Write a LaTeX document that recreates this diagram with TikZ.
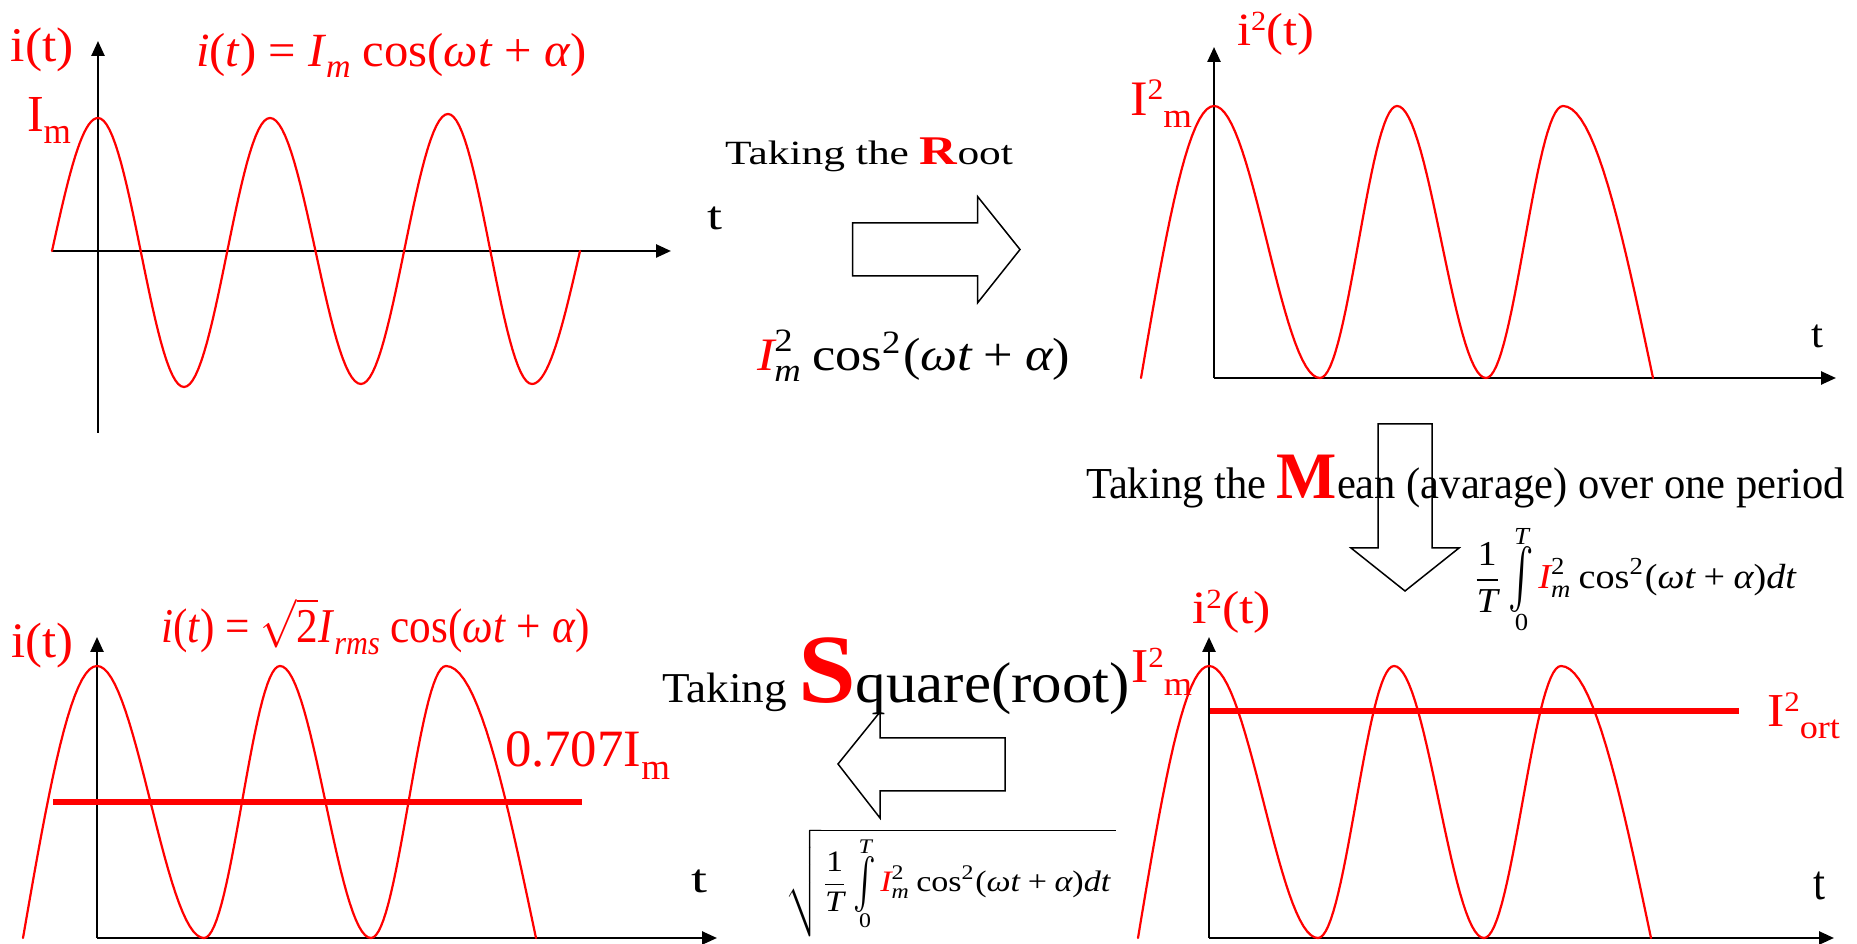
\documentclass[tikz,border=0pt]{standalone}
\usepackage{fontspec}
\setmainfont{Liberation Serif}
\usepackage{amsmath}
\usepackage{graphicx}
\usetikzlibrary{arrows.meta}
\newlength\pxu \setlength\pxu{0.1mm}
\newcommand\fitbox[3]{\resizebox*{#1\pxu}{#2\pxu}{#3}}
\newcommand\sbs[1]{\raisebox{-0.25em}{\scalebox{0.7}{#1}}}
\newcommand\sps[1]{\raisebox{0.32em}{\scalebox{0.6}{#1}}}
\newcommand\Tup[1]{\text{\upshape #1}}
\newcommand\Tit[1]{\text{\itshape #1}}
\newsavebox\intbox
\newcommand\sint{\mathop{\sbox\intbox{$\vcenter{\hbox{\scalebox{1}[1.7]{$\textstyle\int$}}}$}%
 \rlap{\makebox[\wd\intbox]{\smash{\raisebox{1.27em}{\scriptsize\itshape T}}}}%
 \rlap{\makebox[\wd\intbox]{\smash{\raisebox{-1.2em}{\scriptsize 0}}}}%
 \usebox\intbox}\mskip-1mu}
\newcommand\hc[4]{plot[domain=0:180,samples=31] ({#1+(#3-#1)*(\x/180)},{#2+(#4-#2)*(1-cos(\x))/2})}
\newcommand\qs[4]{plot[domain=0:90,samples=21] ({#1+(#3-#1)*(\x/90)},{#2+(#4-#2)*sin(\x)})}
\newcommand\qe[4]{plot[domain=0:90,samples=21] ({#1+(#3-#1)*(\x/90)},{#2+(#4-#2)*(1-cos(\x))})}
\begin{document}
\begin{tikzpicture}[x=0.1mm,y=-0.1mm,
 axis/.style={line width=0.25mm,-{Triangle[length=1.5mm,width=1.3mm]}},
 wave/.style={red,line width=0.22mm,line cap=round},
 level/.style={red,line width=0.65mm},
 blockarrow/.style={draw=black,fill=white,line width=0.15mm,line join=miter},
 lbl/.style={anchor=north west,inner sep=0pt,outer sep=0pt}]
\useasboundingbox (0,0) rectangle (1857,944);
% axes
\coordinate (a1b) at (98,433); \coordinate (a1t) at (98,41);
\coordinate (a1l) at (52,251); \coordinate (a1r) at (671,251);
\coordinate (o2) at (1214,378); \coordinate (a2t) at (1214,47); \coordinate (a2r) at (1836,378);
\coordinate (o3) at (97,938); \coordinate (a3t) at (97,637); \coordinate (a3r) at (717,938);
\coordinate (o4) at (1209,938); \coordinate (a4t) at (1209,637); \coordinate (a4r) at (1834,938);
\draw[axis] (a1b) -- (a1t);
\draw[axis] (a1l) -- (a1r);
\draw[axis] (o2) -- (a2t);
\draw[axis] (o2) -- (a2r);
\draw[axis] (o3) -- (a3t);
\draw[axis] (o3) -- (a3r);
\draw[axis] (o4) -- (a4t);
\draw[axis] (o4) -- (a4r);
% waves
\draw[wave] \qs{52}{251}{98}{118} \hc{98}{118}{184}{387} \hc{184}{387}{270}{118} \hc{270}{118}{361}{384} \hc{361}{384}{448}{114} \hc{448}{114}{532}{384} \qe{532}{384}{580}{251};
\draw[wave] \qs{1141}{378}{1214}{106} \hc{1214}{106}{1320}{378} \hc{1320}{378}{1397}{106} \hc{1397}{106}{1486}{378} \hc{1486}{378}{1563}{106} \qe{1563}{106}{1653}{378};
\draw[wave] \qs{1138}{938}{1209}{666} \hc{1209}{666}{1318}{938} \hc{1318}{938}{1394}{666} \hc{1394}{666}{1484}{938} \hc{1484}{938}{1561}{666} \qe{1561}{666}{1651}{938};
\draw[wave] \qs{23}{938}{97}{666} \hc{97}{666}{204}{938} \hc{204}{938}{280}{666} \hc{280}{666}{371}{938} \hc{371}{938}{446}{666} \qe{446}{666}{536}{938};
% level lines
\coordinate (l1a) at (1210,711); \coordinate (l1b) at (1739,711);
\coordinate (l2a) at (53,802); \coordinate (l2b) at (582,802);
\draw[level] (l1a) -- (l1b);
\draw[level] (l2a) -- (l2b);
% block arrows
\draw[blockarrow] (852.7,223) -- (977.7,223) -- (977.7,196.7) -- (1020,249.5) -- (977.7,302.7) -- (977.7,276) -- (852.7,276) -- cycle;
\draw[blockarrow] (1378,424) -- (1432,424) -- (1432,548) -- (1459,548) -- (1405,591) -- (1351,548) -- (1378,548) -- cycle;
\draw[blockarrow] (1005,738) -- (880,738) -- (880,712) -- (838,764) -- (880,818) -- (880,791) -- (1005,791) -- cycle;
% texts top-left
\node[lbl] (iTL) at (11,28) {\fitbox{63}{44}{\color{red}i(t)}};
\node[lbl] (eqTL) at (196,33) {\fitbox{391}{45}{\color{red}\textit{i}(\textit{t}) = \textit{I}\sbs{\textit{m}} cos(\textit{ωt} + \textit{α})}};
\node[lbl] (ImTL) at (27,97) {\fitbox{44}{47}{\color{red}I\sbs{m}}};
\node[lbl] (tTL) at (707,207) {\fitbox{15}{23}{t}};
% middle top
\node[lbl] (rootTxt) at (725,138) {\fitbox{288}{34}{Taking the {\color{red}\bfseries\scalebox{1.2}{R}}oot}};
\node[lbl] (sqForm) at (757,330) {\fitbox{313}{52}{$\text{\color{red}\itshape I}^{\Tup{2}}_{\Tit{m}}\,\Tup{cos}^{\Tup{2}}\Tup{(}\Tit{ωt}\mathbin{\Tup{+}}\Tit{α}\Tup{)}$}};
% top right
\node[lbl] (i2TR) at (1237,12) {\fitbox{77}{43}{\color{red}i\sps{2}(t)}};
\node[lbl] (I2mTR) at (1130,80) {\fitbox{62}{48}{\color{red}I\sps{2}\sbs{m}}};
\node[lbl] (tTR) at (1811,325) {\fitbox{12}{23}{t}};
% mean
\node[lbl] (meanTxt) at (1086,455) {\fitbox{759}{53}{Taking the {\color{red}\bfseries\scalebox{1.5}{M}}ean (avarage) over one period}};
\node[lbl] (intForm) at (1472,542) {\fitbox{324}{71}{$\displaystyle\dfrac{\Tup{1}}{\Tit{T}}\sint\text{\color{red}\itshape I}^{\Tup{2}}_{\Tit{m}}\,\Tup{cos}^{\Tup{2}}\Tup{(}\Tit{ωt}\mathbin{\Tup{+}}\Tit{α}\Tup{)}\Tit{dt}$}};
% bottom right
\node[lbl] (i2BR) at (1192,590) {\fitbox{79}{43}{\color{red}i\sps{2}(t)}};
\node[lbl] (I2mBR) at (1131,648) {\fitbox{61}{47}{\color{red}I\sps{2}\sbs{m}}};
\node[lbl] (I2ort) at (1767,693) {\fitbox{73}{46}{\color{red}I\sps{2}\sbs{ort}}};
\node[lbl] (tBR) at (1813,872) {\fitbox{12}{28}{t}};
% middle bottom
\node[lbl] (sqTxt) at (662,638) {\fitbox{468}{77}{Taking {\color{red}\bfseries\scalebox{2.3}{S}}\scalebox{1.35}{quare(root)}}};
\node[lbl] (sqrtForm) at (785,829) {\fitbox{331}{108}{$\sqrt{\rule[-1.3em]{0pt}{3.05em}\displaystyle\dfrac{\Tup{1}}{\Tit{T}}\sint\text{\color{red}\itshape I}^{\Tup{2}}_{\Tit{m}}\,\Tup{cos}^{\Tup{2}}\Tup{(}\Tit{ωt}\mathbin{\Tup{+}}\Tit{α}\Tup{)}\Tit{dt}\,}$}};
% bottom left
\node[lbl] (iBL) at (11,623) {\fitbox{62}{45}{\color{red}i(t)}};
\node[lbl] (eqBL) at (161,598) {\fitbox{429}{57}{\color{red}\textit{i}(\textit{t}) = $\sqrt{\text{2}}$\textit{I}\sbs{\textit{rms}} cos(\textit{ωt} + \textit{α})}};
\node[lbl] (p707) at (505,732) {\fitbox{165}{48}{\color{red}0.707I\sbs{m}}};
\node[lbl] (tBL) at (691,870) {\fitbox{16}{23}{t}};
\end{tikzpicture}
\end{document}
